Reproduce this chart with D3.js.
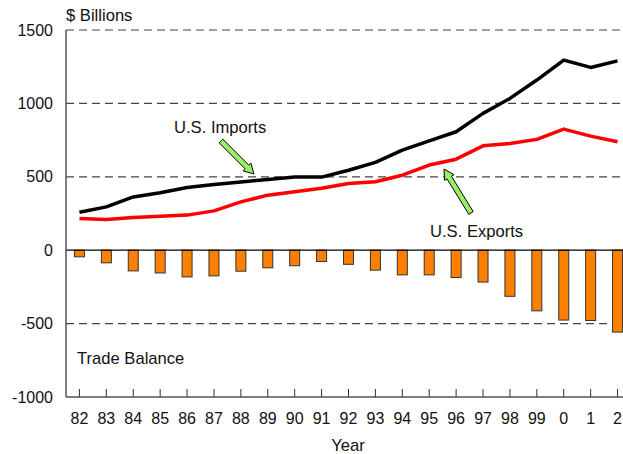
<!DOCTYPE html>
<html>
<head>
<meta charset="utf-8">
<script src="https://cdn.jsdelivr.net/npm/d3@7"></script>
<style>
  body { margin: 0; background: #fff; }
  text { font-family: "Liberation Sans", Arial, sans-serif; fill: #111; }
</style>
</head>
<body>
<svg id="chart" width="623" height="454"></svg>
<script>
// years shown on the axis (2000-2002 shown as 0,1,2)
var years = ['82','83','84','85','86','87','88','89','90','91','92','93','94','95','96','97','98','99','0','1','2'];
var imports = [259,295,363,391,427,448,464,482,498,498,545,598,682,745,807,932,1034,1159,1295,1245,1290];
var exportsUS = [216,209,223,232,239,268,329,375,398,422,455,466,511,580,620,711,727,755,825,777,739];
var balance = [-45,-86,-141,-155,-182,-175,-143,-120,-106,-77,-96,-136,-168,-168,-186,-217,-314,-413,-476,-479,-558];
var yTicks = [1500,1000,500,0,-500,-1000];

var svg = d3.select('#chart');
// plot box (note: "top" is a window global, so use other names)
var plotL = 66, plotR = 631, plotT = 30, plotB = 397;

var x = d3.scalePoint().domain(years).range([plotL, plotR]).padding(0.5);
var y = d3.scaleLinear().domain([-1000, 1500]).range([plotB, plotT]);

// dashed grid lines
svg.append('g').selectAll('line')
  .data(yTicks.filter(function(d){ return d !== 0 && d !== -1000; }))
  .enter().append('line')
    .attr('x1', plotL).attr('x2', 623)
    .attr('y1', function(d){ return y(d); })
    .attr('y2', function(d){ return y(d); })
    .style('stroke', '#444')
    .style('stroke-width', 1.2)
    .style('stroke-dasharray', '8,5');

// y tick labels
svg.append('g').selectAll('text')
  .data(yTicks).enter().append('text')
    .attr('x', 53)
    .attr('y', function(d){ return y(d); })
    .attr('dy', '0.35em')
    .attr('text-anchor', 'end')
    .style('font-size', '16px')
    .text(function(d){ return d; });

// trade balance bars
svg.append('g').selectAll('rect')
  .data(balance).enter().append('rect')
    .attr('x', function(d, i){ return x(years[i]) - 5; })
    .attr('y', y(0))
    .attr('width', 10)
    .attr('height', function(d){ return y(d) - y(0); })
    .style('fill', '#ff8000')
    .style('stroke', '#333')
    .style('stroke-width', 1);

// zero line
svg.append('line')
  .attr('x1', plotL).attr('x2', 623)
  .attr('y1', y(0)).attr('y2', y(0))
  .style('stroke', '#000').style('stroke-width', 1.3);

// axes frame
svg.append('line')
  .attr('x1', plotL).attr('x2', plotL)
  .attr('y1', plotT).attr('y2', plotB)
  .style('stroke', '#555').style('stroke-width', 1.5);
svg.append('line')
  .attr('x1', plotL).attr('x2', 623)
  .attr('y1', plotB).attr('y2', plotB)
  .style('stroke', '#555').style('stroke-width', 1.5);

// x ticks pointing inward
svg.append('g').selectAll('line')
  .data(years).enter().append('line')
    .attr('x1', function(d){ return x(d); })
    .attr('x2', function(d){ return x(d); })
    .attr('y1', plotB - 8).attr('y2', plotB)
    .style('stroke', '#333').style('stroke-width', 1);

svg.append('g').selectAll('text')
  .data(years).enter().append('text')
    .attr('x', function(d){ return x(d); })
    .attr('y', 424)
    .attr('text-anchor', 'middle')
    .style('font-size', '16px')
    .text(function(d){ return d; });

// lines
var line = d3.line()
  .x(function(d, i){ return x(years[i]); })
  .y(function(d){ return y(d); });

svg.append('path').datum(exportsUS)
  .attr('d', line)
  .style('fill', 'none').style('stroke', '#ff0000')
  .style('stroke-width', 3.5).style('stroke-linejoin', 'round');

svg.append('path').datum(imports)
  .attr('d', line)
  .style('fill', 'none').style('stroke', '#000')
  .style('stroke-width', 3.5).style('stroke-linejoin', 'round');

// block arrows
function blockArrow(x0, y0, x1, y1) {
  var dx = x1 - x0, dy = y1 - y0, len = Math.sqrt(dx*dx + dy*dy);
  var ux = dx/len, uy = dy/len, px = -uy, py = ux;
  var sw = 2.6, hw = 5.5, hl = 10;
  var bx = x1 - ux*hl, by = y1 - uy*hl;
  var pts = [
    [x0 + px*sw, y0 + py*sw],
    [bx + px*sw, by + py*sw],
    [bx + px*hw, by + py*hw],
    [x1, y1],
    [bx - px*hw, by - py*hw],
    [bx - px*sw, by - py*sw],
    [x0 - px*sw, y0 - py*sw]
  ];
  svg.append('path')
    .attr('d', d3.line()(pts) + 'Z')
    .style('fill', '#99ee66').style('stroke', '#000').style('stroke-width', 1);
}
blockArrow(221, 141, 254, 174);
blockArrow(471, 213, 444, 169);

// annotations
svg.append('text').attr('x', 174).attr('y', 133).style('font-size', '16.6px').text('U.S. Imports');
svg.append('text').attr('x', 430).attr('y', 237).style('font-size', '16.6px').text('U.S. Exports');
svg.append('text').attr('x', 77).attr('y', 364).style('font-size', '16.6px').text('Trade Balance');
svg.append('text').attr('x', 66).attr('y', 21).style('font-size', '16.6px').text('$ Billions');
svg.append('text').attr('x', 348).attr('y', 451).attr('text-anchor', 'middle').style('font-size', '16.6px').text('Year');
</script>
</body>
</html>
